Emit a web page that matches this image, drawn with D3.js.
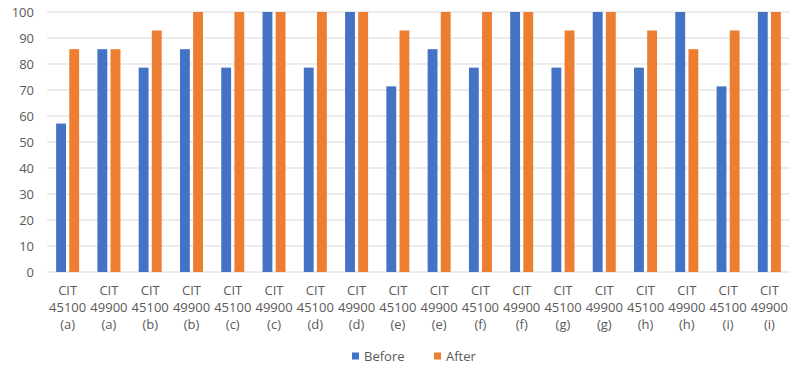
<!DOCTYPE html>
<html><head><meta charset="utf-8">
<script src="https://cdn.jsdelivr.net/npm/d3@7"></script>
<style>body{margin:0;background:#fff}text{font-family:"Open Sans","Noto Sans",sans-serif;}</style>
</head><body><svg id="c" width="791" height="371"></svg>
<script>
const categories = ["CIT|45100|(a)","CIT|49900|(a)","CIT|45100|(b)","CIT|49900|(b)","CIT|45100|(c)","CIT|49900|(c)","CIT|45100|(d)","CIT|49900|(d)","CIT|45100|(e)","CIT|49900|(e)","CIT|45100|(f)","CIT|49900|(f)","CIT|45100|(g)","CIT|49900|(g)","CIT|45100|(h)","CIT|49900|(h)","CIT|45100|(i)","CIT|49900|(i)"];
const before = [57.1,85.7,78.6,85.7,78.6,100,78.6,100,71.4,85.7,78.6,100,78.6,100,78.6,100,71.4,100];
const after = [85.7,85.7,92.9,100,100,100,100,100,92.9,100,100,100,92.9,100,92.9,85.7,92.9,100];
const seriesNames = ["Before","After"];
const yTicks = [0,10,20,30,40,50,60,70,80,90,100];
const colors = ["#4472C4","#ED7D31"];

(function(){
const svg = d3.select("#c");
const mLeft=47, mRight=790, mTop=12, mBottom=272;
const x = d3.scaleBand().domain(d3.range(categories.length)).range([mLeft,mRight]);
const y = d3.scaleLinear().domain([0,100]).range([mBottom,mTop]);
const xs = d3.scaleBand().domain(seriesNames).range([0,23]).paddingInner(0.25);
const textColor="#595959";

svg.append("g").selectAll("line").data(yTicks).join("line")
  .attr("x1",mLeft).attr("x2",mRight).attr("y1",d=>y(d)).attr("y2",d=>y(d))
  .attr("stroke","#d9d9d9").attr("stroke-width",1);

const ya = svg.append("g").attr("transform",`translate(${mLeft},0)`)
  .call(d3.axisLeft(y).tickValues(yTicks).tickSize(0).tickPadding(13));
ya.select(".domain").remove();
ya.selectAll("text").attr("fill",textColor).attr("font-size",13).attr("font-family","'Open Sans','Noto Sans',sans-serif");

const data = [before, after];
categories.forEach((c,i)=>{
  const gx = x(i) + x.bandwidth()/2 - 11.5;
  seriesNames.forEach((s,j)=>{
    svg.append("rect").attr("x",gx+xs(s)).attr("width",xs.bandwidth())
      .attr("y",y(data[j][i])).attr("height",mBottom-y(data[j][i])).attr("fill",colors[j]);
  });
});

const xa = svg.append("g").attr("transform",`translate(0,${mBottom})`)
  .call(d3.axisBottom(x).tickSize(0).tickFormat(""));
xa.select(".domain").remove();
xa.selectAll(".tick").each(function(i){
  const t = d3.select(this).append("text").attr("fill",textColor).attr("font-size",13).attr("text-anchor","middle");
  categories[i].split("|").forEach((line,k)=>{
    t.append("tspan").attr("x",0).attr("y",23+k*17).text(line);
  });
});

const lg = svg.append("g").attr("transform","translate(352,356)");
const items=[{n:"Before",x:0},{n:"After",x:82}];
items.forEach((it,j)=>{
  lg.append("rect").attr("x",it.x).attr("y",-3.5).attr("width",7).attr("height",7).attr("fill",colors[j]);
  lg.append("text").attr("x",it.x+12).attr("y",0).attr("dy","0.35em").attr("font-size",13).attr("fill",textColor).text(it.n);
});
})();
</script></body></html>
